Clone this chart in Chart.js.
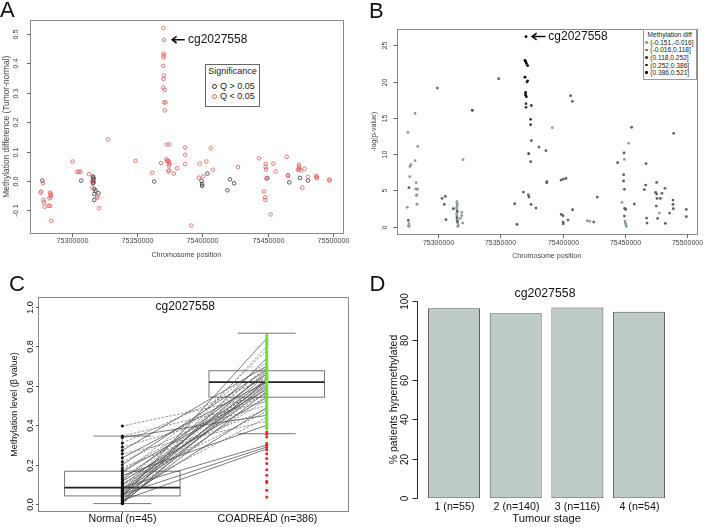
<!DOCTYPE html>
<html>
<head>
<meta charset="utf-8">
<script src="https://cdn.jsdelivr.net/npm/chart.js@4.4.0/dist/chart.umd.min.js"></script>
<style>
  body { margin: 0; background: #fff; width: 708px; height: 527px; position: relative; overflow: hidden; font-family: "Liberation Sans", Arial, sans-serif; }
  canvas { position: absolute; }
  .pl { position: absolute; font-size: 22px; line-height: 22px; color: #111; }
  .ann { position: absolute; font-size: 12px; line-height: 12px; color: #111; transform: translateY(-50%); white-space: nowrap; }
  .abs { position: absolute; white-space: nowrap; }
</style>
</head>
<body>
<canvas id="cA" width="354" height="260" style="left:0;top:0"></canvas>
<canvas id="cB" width="354" height="260" style="left:354px;top:0"></canvas>
<canvas id="cC" width="354" height="267" style="left:0;top:260px"></canvas>
<canvas id="cD" width="354" height="267" style="left:354px;top:260px"></canvas>

<div class="pl" style="left:0;top:-1.3px">A</div>
<div class="pl" style="left:369px;top:-0.3px">B</div>
<div class="pl" style="left:9px;top:273px">C</div>
<div class="pl" style="left:369.5px;top:273px">D</div>

<!-- probe labels -->
<svg class="abs" style="left:170px;top:34px" width="18" height="12"><path d="M14.7 5.7 H2.6 M6.6 2.4 L2.2 5.7 L6.6 9" stroke="#111" stroke-width="1.6" fill="none"/></svg>
<div class="ann" style="left:188px;top:39px">cg2027558</div>
<svg class="abs" style="left:529.5px;top:31px" width="18" height="12"><path d="M15.5 5.5 H2.6 M6.6 2.2 L2.2 5.5 L6.6 8.8" stroke="#111" stroke-width="1.6" fill="none"/></svg>
<div class="ann" style="left:548.3px;top:36px">cg2027558</div>

<!-- legend A -->
<div class="abs" style="left:205px;top:63.5px;width:55px;height:43px;border:1px solid #666;box-sizing:border-box;background:#fff;font-size:9px;color:#222">
  <div class="abs" style="left:0;right:0;top:2.3px;text-align:center;line-height:9px">Significance</div>
  <span class="abs" style="left:5.8px;top:19.6px;width:3px;height:3px;border:0.8px solid #333;border-radius:50%"></span>
  <div class="abs" style="left:14px;top:17.3px;line-height:9px">Q &gt; 0.05</div>
  <span class="abs" style="left:5.8px;top:29.6px;width:3px;height:3px;border:0.8px solid #e45c5c;border-radius:50%"></span>
  <div class="abs" style="left:14px;top:27.3px;line-height:9px">Q &lt; 0.05</div>
</div>

<!-- legend B -->
<div id="legB" class="abs" style="left:642.7px;top:29.3px;width:54px;height:51px;border:1px solid #999;box-sizing:border-box;background:#fff;font-size:6.6px;color:#222;-webkit-font-smoothing:antialiased">
  <div class="abs" style="left:0;right:0;top:0.8px;text-align:center;line-height:7px">Methylation diff</div>
</div>

<script>
// ---------- panel A: methylation difference along the chromosome ----------
const aPos = [
  75277300, 75277800, 75276500, 75276000, 75278100, 75278600, 75279100, 75282200, 75283200, 75283200, 75283700, 75283900, 75283700, 75282700, 75284200,
  75300400, 75304100, 75305400, 75306600, 75307100, 75313000, 75316100, 75316300, 75316600, 75316100, 75316600, 75316100, 75315600, 75316100, 75315600, 75317100, 75318100, 75317100, 75320400, 75319100, 75319600, 75317100, 75320700, 75327800,
  75348700, 75361500, 75363000, 75368300,
  75370100, 75370600, 75370100, 75370400, 75370100, 75369900, 75370400, 75370100, 75369900, 75371100, 75370600, 75371700, 75371100,
  75372400, 75374700, 75372400, 75372900, 75373900, 75374500, 75374700, 75374200, 75374500, 75373900,
  75378000, 75380600, 75386700, 75386700, 75386700, 75391500, 75397900, 75397200, 75400500, 75399200,
  75399700, 75399700, 75403000, 75403800, 75406300, 75407900, 75419100, 75421100, 75424200, 75427200,
  75443300, 75448400, 75448400, 75448700, 75449700, 75448900, 75454300, 75456100, 75447100, 75447900, 75448200, 75452200, 75464500, 75465500, 75465500, 75466500,
  75473900, 75473900, 75473900, 75473100, 75475400, 75478200, 75474700, 75476500, 75480800, 75480800, 75487200, 75487400, 75487700, 75497100, 75497400
];
const aDiff = [
  0.001, -0.008, -0.036, -0.040, -0.065, -0.073, -0.088, -0.085, -0.085, -0.040, -0.044, -0.049, -0.055, -0.059, -0.136,
  0.066, 0.030, 0.032, 0.031, 0.001, 0.023, 0.015, 0.011, 0.006, 0.000, -0.005, -0.008, -0.002, 0.001, -0.023, -0.028, -0.033, -0.045, -0.042, -0.053, -0.057, -0.065, -0.093, 0.141,
  0.068, 0.028, -0.002, 0.061,
  0.520, 0.480, 0.433, 0.427, 0.420, 0.392, 0.359, 0.347, 0.317, 0.310, 0.267, 0.267, 0.240,
  0.124, 0.124, 0.074, 0.068, 0.068, 0.063, 0.057, 0.052, 0.036, 0.032,
  0.025, 0.043, 0.114, 0.089, 0.057, -0.152, 0.059, 0.011, 0.015, 0.000,
  -0.011, -0.017, 0.066, 0.025, 0.111, 0.038, -0.032, 0.005, -0.008, 0.047,
  0.077, 0.058, 0.048, 0.039, 0.010, 0.008, 0.059, 0.032, -0.036, -0.056, -0.065, -0.114, 0.082, 0.020, 0.017, -0.005,
  0.055, 0.048, 0.041, 0.038, 0.036, 0.041, 0.010, -0.023, 0.014, 0.001, 0.017, 0.013, 0.009, 0.005, 0.001
];
// 1 = Q < 0.05, 0 = Q > 0.05
const aSig = [
  0, 1, 1, 1, 1, 1, 1, 1, 1, 1, 1, 1, 1, 1, 1,
  1, 1, 1, 1, 0, 1, 0, 0, 0, 0, 0, 0, 1, 1, 1, 0, 0, 0, 0, 1, 1, 0, 1, 1,
  1, 1, 0, 1,
  1, 1, 1, 1, 1, 1, 1, 1, 1, 1, 1, 1, 1,
  1, 1, 1, 1, 1, 1, 1, 1, 1, 1,
  1, 1, 1, 1, 1, 1, 1, 1, 1, 0,
  0, 0, 1, 0, 1, 1, 0, 0, 0, 1,
  1, 1, 1, 1, 0, 1, 1, 1, 1, 1, 1, 1, 1, 1, 1, 0,
  1, 1, 1, 1, 1, 1, 0, 1, 1, 0, 1, 1, 1, 1, 1
];
const posTicks = [75300000, 75350000, 75400000, 75450000, 75500000];
const aYTicks = [-0.1, 0, 0.1, 0.2, 0.3, 0.4, 0.5];
const aYLabels = ['-0.1', '0.0', '0.1', '0.2', '0.3', '0.4', '0.5'];

// ---------- panel B: -log(p) along the chromosome ----------
const bPos = [
  75275400, 75275900, 75276200, 75276700, 75276200, 75277000, 75276700, 75277300, 75277500, 75278300, 75281600, 75281600, 75282400, 75282100, 75283200, 75283700, 75283700, 75283200, 75282600, 75283200,
  75299500, 75303200, 75305900, 75305100, 75306400, 75312300,
  75315200, 75315200, 75315500, 75315200, 75314900, 75315200, 75315500, 75314900, 75315200, 75315200, 75315500, 75315500, 75315800, 75316300, 75315800,
  75319000, 75319000, 75319800, 75317900, 75320100, 75327500,
  75348700, 75361500, 75363400, 75370600, 75369800, 75370300, 75370900, 75371900, 75369800, 75371900, 75371400, 75370300, 75370300, 75370300, 75370900,
  75370600, 75370600, 75374900, 75374300, 75374300, 75374900, 75372700, 75374300, 75381000, 75386600, 75368500, 75372500, 75373000, 75374600, 75378600, 75387200, 75387400,
  75391700, 75398700, 75400500, 75402700, 75406400, 75407800, 75398900, 75400300, 75400300, 75400500, 75404300, 75408000, 75419800, 75421700, 75424900, 75427800,
  75444100, 75447600, 75449200, 75449500, 75448900, 75448900, 75449500, 75449700, 75450300, 75450600, 75449500, 75450000, 75450300, 75450600, 75451100,
  75453000, 75455400, 75457500, 75465500, 75466600, 75466900, 75467400, 75467700, 75475400, 75474600, 75475400, 75479700, 75482100,
  75475700, 75478400, 75475100, 75477600, 75476200, 75482400, 75485800, 75488500, 75488500, 75488800, 75489100, 75499200, 75499200
];
const bLogP = [
  2.67, 13.0, 0.87, 0.41, 0.09, 0.05, 5.38, 6.9, 8.3, 8.55, 15.6, 9.1, 6.07, 5.2, 5.15, 5.2, 11.07, 4.4, 4.3, 3.1,
  19.1, 3.9, 4.18, 3.08, 0.97, 2.48,
  3.45, 3.26, 3.03, 2.8, 2.57, 2.34, 2.11, 1.79, 1.52, 1.24, 0.97, 0.74, 0.5, 0.18, 0.05,
  1.98, 1.52, 0.5, 1.15, 9.24, 16.04,
  20.4, 3.17, 0.32, 26.2, 22.9, 22.75, 22.5, 22.2, 20.6, 20.1, 19.95, 18.5, 18.3, 18.1, 17.9,
  16.96, 16.45, 16.7, 14.8, 14.06, 11.86, 10.06, 8.96, 10.98, 10.48, 4.78, 4.37, 4.09, 3.08, 2.57, 6.07, 6.2,
  13.65, 6.43, 6.57, 6.66, 18.06, 17.28, 1.7, 1.52, 0.64, 0.41, 0.92, 2.34, 0.83, 0.74, 0.64, 4.09,
  8.82, 3.35, 10.16, 9.28, 7.17, 6.3, 5.15, 2.53, 2.44, 2.39, 1.47, 0.78, 0.5, 0.28, 0.05,
  11.49, 13.7, 3.13, 5.1, 5.74, 8.69, 1.19, 0.5, 6.11, 4.73, 4.5, 4.6, 5.29,
  3.9, 3.9, 2.85, 1.88, 1.15, 0.46, 1.88, 3.68, 3.08, 2.48, 12.87, 2.39, 1.38
];
// methylation-difference class (1..5) of each probe
const bBin = [
  1, 1, 2, 1, 1, 1, 2, 1, 1, 1, 1, 1, 1, 1, 1, 1, 1, 1, 1, 1,
  2, 2, 2, 2, 2, 2,
  1, 1, 1, 1, 1, 1, 2, 1, 1, 2, 1, 2, 1, 1, 1,
  1, 1, 1, 1, 1, 3,
  2, 2, 2, 5, 5, 5, 5, 5, 5, 4, 4, 4, 4, 4, 4,
  3, 3, 3, 3, 3, 2, 3, 2, 2, 2, 2, 2, 2, 2, 2, 2, 2,
  1, 2, 2, 2, 2, 2, 2, 2, 2, 2, 2, 2, 1, 1, 2, 2,
  2, 1, 2, 1, 2, 2, 2, 2, 2, 2, 2, 1, 1, 1, 1,
  1, 2, 2, 2, 2, 2, 2, 2, 2, 2, 2, 2, 2,
  2, 2, 2, 1, 2, 2, 2, 2, 2, 2, 2, 2, 2
];
const bBinLabels = ['(-0.151,-0.016]', '(-0.016,0.118]', '(0.118,0.252]', '(0.252,0.386]', '(0.386,0.521]'];
const bYTicks = [0, 5, 10, 15, 20, 25];

// ---------- panel C: normal vs tumour beta values ----------
const cGroups = ['Normal (n=45)', 'COADREAD (n=386)'];
const cNormal = [0.396, 0.345, 0.338, 0.31, 0.29, 0.272, 0.255, 0.235, 0.215, 0.2, 0.185, 0.172, 0.165, 0.155, 0.145,
  0.135, 0.125, 0.118, 0.11, 0.104, 0.098, 0.092, 0.085, 0.08, 0.075, 0.07, 0.066, 0.062, 0.058, 0.054,
  0.05, 0.047, 0.045, 0.04, 0.036, 0.032, 0.028, 0.024, 0.02, 0.016, 0.012, 0.009, 0.006, 0.004, 0.002];
const cPaired = [0.55, 0.52, 0.45, 0.64, 0.50, 0.70, 0.42, 0.62, 0.56, 0.68, 0.48, 0.60, 0.58, 0.72, 0.40,
  0.61, 0.66, 0.54, 0.69, 0.47, 0.63, 0.57, 0.30, 0.65, 0.60, 0.78, 0.53, 0.67, 0.44, 0.62,
  0.29, 0.70, 0.59, 0.55, 0.84, 0.64, 0.49, 0.68, 0.28, 0.61, 0.74, 0.57, 0.80, 0.63, 0.66];
const cDashed = [1, 1, 0, 1, 1, 0, 1, 0, 1, 0, 1, 1, 0, 1, 0, 1, 0, 0, 1, 1, 0, 1, 0, 1, 0, 1, 1, 0, 1, 0,
  0, 1, 0, 1, 0, 1, 0, 1, 0, 1, 0, 0, 1, 0, 1];
const cHyper = [0.383, 0.39, 0.402, 0.41, 0.421, 0.43, 0.44, 0.452, 0.46, 0.47, 0.481, 0.49, 0.5, 0.51, 0.52,
  0.528, 0.535, 0.54, 0.546, 0.552, 0.557, 0.562, 0.568, 0.573, 0.578, 0.584, 0.589, 0.594, 0.6, 0.604,
  0.609, 0.614, 0.618, 0.623, 0.628, 0.633, 0.638, 0.643, 0.648, 0.653, 0.659, 0.664, 0.67, 0.676, 0.683,
  0.69, 0.698, 0.707, 0.716, 0.726, 0.735, 0.745, 0.756, 0.766, 0.776, 0.787, 0.798, 0.809, 0.82, 0.831, 0.842, 0.854];
const cHypo = [0.366, 0.354, 0.340, 0.307, 0.298, 0.287, 0.276, 0.256, 0.231, 0.206, 0.175, 0.147, 0.116, 0.110, 0.071, 0.037];
// min whisker, Q1, median, Q3, max whisker
const cBoxNormal = [0.003, 0.042, 0.084, 0.167, 0.345];
const cBoxTumour = [0.357, 0.542, 0.618, 0.676, 0.866];
const cYTicks = [0, 0.2, 0.4, 0.6, 0.8, 1.0];
const cYLabels = ['0.0', '0.2', '0.4', '0.6', '0.8', '1.0'];

// ---------- panel D: hypermethylated share by stage ----------
const dStages = ['1 (n=55)', '2 (n=140)', '3 (n=116)', '4 (n=54)'];
const dPct = [96.2, 93.6, 96.5, 94.4];
const dYTicks = [0, 20, 40, 60, 80, 100];

const binColors = ['#8e9c9c', '#5b6161', '#3d3f3f', '#222222', '#000000'];
const FONT = '"Liberation Sans", Arial, sans-serif';

// R-style axes, frame and titles drawn from the chart's own scales
const rAxes = {
  id: 'rAxes',
  beforeDatasetsDraw(chart, args, o) {
    if (o.boxes) drawBoxes(chart, o.boxes);
  },
  afterDraw(chart, args, o) {
    const { ctx, chartArea: a } = chart;
    const sx = chart.scales.x, sy = chart.scales.y;
    ctx.save();
    ctx.lineWidth = 1;
    if (o.frame) {
      ctx.strokeStyle = o.frame;
      ctx.strokeRect(Math.round(a.left) + 0.5, Math.round(a.top) + 0.5, Math.round(a.right - a.left), Math.round(a.bottom - a.top));
    }
    ctx.strokeStyle = o.tickColor;
    ctx.fillStyle = o.textColor;
    ctx.textAlign = 'center';
    ctx.textBaseline = 'middle';
    ctx.font = o.xFont + 'px ' + FONT;
    sx.ticks.forEach((t, i) => {
      const px = Math.round(sx.getPixelForTick(i)) + 0.5;
      if (o.xTick) {
        ctx.beginPath(); ctx.moveTo(px, a.bottom); ctx.lineTo(px, a.bottom + o.xTick); ctx.stroke();
      }
      ctx.fillText(o.xLabels[i], px, a.bottom + o.xDy);
    });
    const yl = Math.round(a.left - (o.yAxisOff || 0)) + 0.5;
    ctx.font = o.yFont + 'px ' + FONT;
    sy.ticks.forEach((t, i) => {
      const py = Math.round(sy.getPixelForTick(i)) + 0.5;
      ctx.beginPath(); ctx.moveTo(yl, py); ctx.lineTo(yl - o.yTick, py); ctx.stroke();
      ctx.save();
      ctx.translate(a.left - o.yDx, py);
      ctx.rotate(-Math.PI / 2);
      ctx.fillText(o.yLabels[i], 0, 0);
      ctx.restore();
    });
    if (o.yAxisOff) {
      ctx.beginPath();
      ctx.moveTo(yl, Math.round(sy.getPixelForTick(0)) + 0.5);
      ctx.lineTo(yl, Math.round(sy.getPixelForTick(sy.ticks.length - 1)) + 0.5);
      ctx.stroke();
    }
    ctx.fillStyle = o.titleColor;
    const cx = (a.left + a.right) / 2, cy = (a.top + a.bottom) / 2;
    if (o.xTitle) {
      ctx.font = o.xTitle[1] + 'px ' + FONT;
      ctx.fillText(o.xTitle[0], cx, a.bottom + o.xTitle[2]);
    }
    if (o.yTitle) {
      ctx.font = o.yTitle[1] + 'px ' + FONT;
      ctx.save();
      ctx.translate(a.left - o.yTitle[2], cy + (o.yTitle[3] || 0));
      ctx.rotate(-Math.PI / 2);
      ctx.fillText(o.yTitle[0], 0, 0);
      ctx.restore();
    }
    if (o.title) {
      ctx.font = o.title[1] + 'px ' + FONT;
      ctx.fillText(o.title[0], cx + (o.title[3] || 0), a.top + o.title[2]);
    }
    ctx.restore();
  }
};
Chart.register(rAxes);

function drawBoxes(chart, boxes) {
  const { ctx } = chart;
  const sx = chart.scales.x, sy = chart.scales.y;
  ctx.save();
  boxes.forEach((b, i) => {
    const cx = sx.getPixelForValue(i + 1);
    const hw = sx.getPixelForValue(i + 1.4) - cx;
    const sw = hw / 2;
    const [lo, q1, med, q3, hi] = b.map(v => sy.getPixelForValue(v));
    ctx.strokeStyle = '#777';
    ctx.lineWidth = 1;
    ctx.setLineDash([3, 2]);
    ctx.beginPath();
    ctx.moveTo(cx, q3); ctx.lineTo(cx, hi);
    ctx.moveTo(cx, q1); ctx.lineTo(cx, lo);
    ctx.stroke();
    ctx.setLineDash([]);
    ctx.strokeRect(cx - hw, q3, 2 * hw, q1 - q3);
    ctx.beginPath();
    ctx.moveTo(cx - sw, hi); ctx.lineTo(cx + sw, hi);
    ctx.moveTo(cx - sw, lo); ctx.lineTo(cx + sw, lo);
    ctx.stroke();
    ctx.strokeStyle = '#222';
    ctx.lineWidth = 1.8;
    ctx.beginPath();
    ctx.moveTo(cx - hw, med); ctx.lineTo(cx + hw, med);
    ctx.stroke();
  });
  ctx.restore();
}

function bare(extra) {
  return Object.assign({
    ticks: { display: false },
    grid: { display: false },
    border: { display: false },
    afterFit(s) { if (s.isHorizontal()) s.height = 0; else s.width = 0; }
  }, extra);
}
function setTicks(arr) {
  return s => { s.ticks = arr.map(v => ({ value: v })); };
}
function baseOptions(pad, xScale, yScale, axes) {
  return {
    responsive: false,
    animation: false,
    events: [],
    layout: { padding: pad },
    plugins: { legend: { display: false }, tooltip: { enabled: false }, rAxes: axes },
    scales: { x: xScale, y: yScale }
  };
}

// ---- A ----
const aPoints = sig => aPos.map((p, i) => ({ x: p, y: aDiff[i], s: aSig[i] })).filter(d => d.s === sig);
new Chart(document.getElementById('cA'), {
  type: 'scatter',
  data: {
    datasets: [
      { data: aPoints(1), pointRadius: 1.8, pointBorderWidth: 0.8, pointBorderColor: '#e25858', pointBackgroundColor: 'rgba(0,0,0,0)' },
      { data: aPoints(0), pointRadius: 1.8, pointBorderWidth: 0.8, pointBorderColor: '#333', pointBackgroundColor: 'rgba(0,0,0,0)' }
    ]
  },
  options: baseOptions({ left: 30, top: 20, right: 11.3, bottom: 26.7 },
    bare({ type: 'linear', min: 75267860, max: 75507420, afterBuildTicks: setTicks(posTicks) }),
    bare({ type: 'linear', min: -0.1784, max: 0.5477, afterBuildTicks: setTicks(aYTicks) }),
    {
      frame: '#888', tickColor: '#666', textColor: '#444', titleColor: '#444',
      xFont: 7.2, xTick: 4, xDy: 7.4, xLabels: posTicks.map(String),
      yFont: 7.2, yTick: 3.5, yDx: 14, yLabels: aYLabels,
      xTitle: ['Chromosome position', 7.2, 21.7],
      yTitle: ['Methylation difference (Tumor-normal)', 8.4, 23.3]
    })
});

// ---- B ----
const bPoints = bin => bPos.map((p, i) => ({ x: p, y: bLogP[i], b: bBin[i] })).filter(d => d.b === bin);
new Chart(document.getElementById('cB'), {
  type: 'scatter',
  data: {
    datasets: [5, 4, 3, 2, 1].map(bin => ({
      data: bPoints(bin), pointRadius: 1.4, pointBorderWidth: 0, pointBackgroundColor: binColors[bin - 1]
    }))
  },
  options: baseOptions({ left: 42.7, top: 29.3, right: 11.3, bottom: 26 },
    bare({ type: 'linear', min: 75266870, max: 75507540, afterBuildTicks: setTicks(posTicks) }),
    bare({ type: 'linear', min: -1.0, max: 27.2, afterBuildTicks: setTicks(bYTicks) }),
    {
      frame: '#888', tickColor: '#666', textColor: '#444', titleColor: '#444',
      xFont: 7, xTick: 4, xDy: 9.3, xLabels: posTicks.map(String),
      yFont: 7, yTick: 4, yDx: 11.7, yLabels: bYTicks.map(String),
      xTitle: ['Chromosome position', 7.1, 22],
      yTitle: ['-log(p-value)', 7.1, 22.7]
    })
});

// legend B entries
const legB = document.getElementById('legB');
bBinLabels.forEach((lab, i) => {
  const y = 13 + i * 7.6;
  const dot = document.createElement('span');
  dot.className = 'abs';
  dot.style.cssText = `left:1.6px;top:${y - 1.3 - 1}px;width:2.6px;height:2.6px;border-radius:50%;background:${binColors[i]}`;
  const t = document.createElement('div');
  t.className = 'abs';
  t.style.cssText = `left:6.6px;top:${y - 3.5 - 1}px;line-height:7px`;
  t.textContent = lab;
  legB.appendChild(dot);
  legB.appendChild(t);
});

// ---- C ----
const cLines = dashed => {
  const d = [];
  cNormal.forEach((n, i) => {
    if (cDashed[i] === dashed) d.push({ x: 1, y: n }, { x: 2, y: cPaired[i] }, { x: 2, y: null });
  });
  return d;
};
new Chart(document.getElementById('cC'), {
  type: 'scatter',
  data: {
    datasets: [
      { data: cHypo.map(v => ({ x: 2, y: v })), pointRadius: 1.5, pointBorderWidth: 0, pointBackgroundColor: '#e3262b' },
      { data: cHyper.map(v => ({ x: 2, y: v })), pointRadius: 1.6, pointBorderWidth: 0, pointBackgroundColor: '#74e02a' },
      { data: cNormal.map(v => ({ x: 1, y: v })), pointRadius: 1.5, pointBorderWidth: 0, pointBackgroundColor: '#111' },
      { type: 'line', data: cLines(1), borderColor: '#666', borderWidth: 0.7, borderDash: [2.5, 1.5], pointRadius: 0, spanGaps: false },
      { type: 'line', data: cLines(0), borderColor: '#333', borderWidth: 0.65, pointRadius: 0, spanGaps: false }
    ]
  },
  options: baseOptions({ left: 38.3, top: 37.3, right: 5.7, bottom: 15.3 },
    bare({ type: 'linear', min: 0.418, max: 2.565, afterBuildTicks: setTicks([1, 2]) }),
    bare({ type: 'linear', min: -0.038, max: 1.048, afterBuildTicks: setTicks(cYTicks) }),
    {
      frame: '#888', tickColor: '#555', textColor: '#111', titleColor: '#111',
      boxes: [cBoxNormal, cBoxTumour],
      xFont: 10.6, xTick: 2.5, xDy: 7, xLabels: cGroups,
      yFont: 9, yTick: 2.5, yDx: 7.5, yLabels: cYLabels,
      yTitle: ['Methylation level (β value)', 9, 23.3],
      title: ['cg2027558', 12, 9.4, -8]
    })
});

// ---- D ----
new Chart(document.getElementById('cD'), {
  type: 'bar',
  data: {
    labels: dStages,
    datasets: [{
      data: dPct, backgroundColor: '#bfcbc9', borderColor: '#555', borderWidth: 1, borderSkipped: false,
      barPercentage: 0.843, categoryPercentage: 1
    }]
  },
  options: baseOptions({ left: 69.2, top: 40.7, right: 38.1, bottom: 28.7 },
    bare({ type: 'category' }),
    bare({ type: 'linear', min: 0, max: 100, afterBuildTicks: setTicks(dYTicks) }),
    {
      tickColor: '#222', textColor: '#111', titleColor: '#111',
      xFont: 10.7, xTick: 0, xDy: 9, xLabels: dStages,
      yFont: 10, yTick: 5, yDx: 17.5, yAxisOff: 6.2, yLabels: dYTicks.map(String),
      xTitle: ['Tumour stage', 11.2, 21],
      yTitle: ['% patients hypermethylated', 10.5, 29.2],
      title: ['cg2027558', 12.3, -7.4, -1.5]
    })
});
</script>
</body>
</html>
